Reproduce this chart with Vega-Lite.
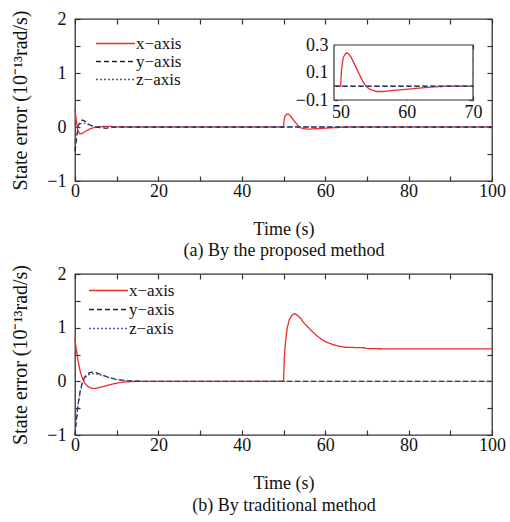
{
  "$schema": "https://vega.github.io/schema/vega-lite/v6.json",
  "padding": {"left": 10, "top": 9, "right": 3, "bottom": 4},
  "background": "white",
  "config": {
    "font": "Liberation Serif",
    "view": {"stroke": "#333333", "strokeWidth": 1.3},
    "axis": {
      "grid": false, "domain": false, "tickColor": "#333333", "tickSize": -5, "tickWidth": 1.2,
      "labelFont": "Liberation Serif", "labelFontSize": 18, "labelColor": "#111111", "labelFlush": false, "labelOverlap": false,
      "titleFont": "Liberation Serif", "titleFontSize": 18, "titleFontWeight": 400, "titleColor": "#111111"
    },
    "legend": {
      "labelFont": "Liberation Serif", "labelFontSize": 17, "labelColor": "#111111",
      "symbolType": "M-3,0H3", "symbolSize": 169, "symbolStrokeWidth": 1.3, "labelOffset": 12, "padding": 0
    }
  },
  "datasets": {
    "a": [
      {"s": "x−axis", "t": 0, "v": 0.33}, {"s": "x−axis", "t": 0.3, "v": 0.12}, {"s": "x−axis", "t": 0.7, "v": -0.07},
      {"s": "x−axis", "t": 1.2, "v": -0.13}, {"s": "x−axis", "t": 1.7, "v": -0.12}, {"s": "x−axis", "t": 2.5, "v": -0.08},
      {"s": "x−axis", "t": 3.5, "v": -0.04}, {"s": "x−axis", "t": 4.5, "v": -0.01}, {"s": "x−axis", "t": 5.5, "v": 0.005},
      {"s": "x−axis", "t": 7, "v": 0.01}, {"s": "x−axis", "t": 8.5, "v": 0.01}, {"s": "x−axis", "t": 9.8, "v": 0.005},
      {"s": "x−axis", "t": 12, "v": 0}, {"s": "x−axis", "t": 20, "v": 0}, {"s": "x−axis", "t": 40, "v": 0},
      {"s": "x−axis", "t": 49, "v": 0}, {"s": "x−axis", "t": 50, "v": 0}, {"s": "x−axis", "t": 50.15, "v": 0.13},
      {"s": "x−axis", "t": 50.4, "v": 0.21}, {"s": "x−axis", "t": 50.8, "v": 0.24}, {"s": "x−axis", "t": 51.1, "v": 0.24},
      {"s": "x−axis", "t": 51.6, "v": 0.21}, {"s": "x−axis", "t": 52.2, "v": 0.15}, {"s": "x−axis", "t": 52.8, "v": 0.09},
      {"s": "x−axis", "t": 53.3, "v": 0.04}, {"s": "x−axis", "t": 53.8, "v": 0}, {"s": "x−axis", "t": 54.5, "v": -0.025},
      {"s": "x−axis", "t": 55.5, "v": -0.038}, {"s": "x−axis", "t": 56.5, "v": -0.038}, {"s": "x−axis", "t": 58, "v": -0.03},
      {"s": "x−axis", "t": 60, "v": -0.022}, {"s": "x−axis", "t": 62, "v": -0.013}, {"s": "x−axis", "t": 64, "v": -0.005},
      {"s": "x−axis", "t": 66, "v": 0}, {"s": "x−axis", "t": 70, "v": 0}, {"s": "x−axis", "t": 80, "v": 0}, {"s": "x−axis", "t": 100, "v": 0},
      {"s": "y−axis", "t": 0, "v": -0.45}, {"s": "y−axis", "t": 0.4, "v": -0.2}, {"s": "y−axis", "t": 0.8, "v": 0.02},
      {"s": "y−axis", "t": 1.3, "v": 0.11}, {"s": "y−axis", "t": 1.8, "v": 0.13}, {"s": "y−axis", "t": 2.5, "v": 0.1},
      {"s": "y−axis", "t": 3.3, "v": 0.05}, {"s": "y−axis", "t": 4.2, "v": 0.015}, {"s": "y−axis", "t": 5, "v": 0},
      {"s": "y−axis", "t": 6, "v": -0.01}, {"s": "y−axis", "t": 7, "v": -0.02}, {"s": "y−axis", "t": 8, "v": -0.02},
      {"s": "y−axis", "t": 9, "v": -0.008}, {"s": "y−axis", "t": 10, "v": 0}, {"s": "y−axis", "t": 20, "v": 0},
      {"s": "y−axis", "t": 40, "v": 0}, {"s": "y−axis", "t": 49, "v": 0}, {"s": "y−axis", "t": 50, "v": 0},
      {"s": "y−axis", "t": 60, "v": 0}, {"s": "y−axis", "t": 70, "v": 0}, {"s": "y−axis", "t": 80, "v": 0}, {"s": "y−axis", "t": 100, "v": 0},
      {"s": "z−axis", "t": 0, "v": -0.3}, {"s": "z−axis", "t": 0.4, "v": -0.12}, {"s": "z−axis", "t": 0.8, "v": 0.02},
      {"s": "z−axis", "t": 1.3, "v": 0.06}, {"s": "z−axis", "t": 2, "v": 0.08}, {"s": "z−axis", "t": 2.8, "v": 0.06},
      {"s": "z−axis", "t": 3.6, "v": 0.03}, {"s": "z−axis", "t": 4.5, "v": 0.01}, {"s": "z−axis", "t": 5.5, "v": 0},
      {"s": "z−axis", "t": 10, "v": 0}, {"s": "z−axis", "t": 20, "v": 0}, {"s": "z−axis", "t": 40, "v": 0},
      {"s": "z−axis", "t": 49, "v": 0}, {"s": "z−axis", "t": 50, "v": 0}, {"s": "z−axis", "t": 60, "v": 0},
      {"s": "z−axis", "t": 70, "v": 0}, {"s": "z−axis", "t": 80, "v": 0}, {"s": "z−axis", "t": 100, "v": 0}
    ],
    "b": [
      {"s": "x−axis", "t": 0, "v": 0.8}, {"s": "x−axis", "t": 0.3, "v": 0.6}, {"s": "x−axis", "t": 0.7, "v": 0.4},
      {"s": "x−axis", "t": 1.2, "v": 0.2}, {"s": "x−axis", "t": 1.8, "v": 0.05}, {"s": "x−axis", "t": 2.3, "v": -0.03},
      {"s": "x−axis", "t": 3, "v": -0.09}, {"s": "x−axis", "t": 4, "v": -0.13}, {"s": "x−axis", "t": 5, "v": -0.13},
      {"s": "x−axis", "t": 6, "v": -0.11}, {"s": "x−axis", "t": 7, "v": -0.09}, {"s": "x−axis", "t": 8, "v": -0.07},
      {"s": "x−axis", "t": 9, "v": -0.05}, {"s": "x−axis", "t": 10, "v": -0.035}, {"s": "x−axis", "t": 11, "v": -0.02},
      {"s": "x−axis", "t": 12, "v": -0.012}, {"s": "x−axis", "t": 13.5, "v": -0.005}, {"s": "x−axis", "t": 15, "v": 0},
      {"s": "x−axis", "t": 30, "v": 0}, {"s": "x−axis", "t": 50, "v": 0}, {"s": "x−axis", "t": 50.2, "v": 0.45},
      {"s": "x−axis", "t": 50.5, "v": 0.75}, {"s": "x−axis", "t": 50.9, "v": 1.0}, {"s": "x−axis", "t": 51.4, "v": 1.15},
      {"s": "x−axis", "t": 52, "v": 1.23}, {"s": "x−axis", "t": 52.6, "v": 1.26}, {"s": "x−axis", "t": 53.2, "v": 1.24},
      {"s": "x−axis", "t": 54, "v": 1.18}, {"s": "x−axis", "t": 55, "v": 1.08}, {"s": "x−axis", "t": 56, "v": 1.0},
      {"s": "x−axis", "t": 57, "v": 0.92}, {"s": "x−axis", "t": 58, "v": 0.85}, {"s": "x−axis", "t": 59, "v": 0.79},
      {"s": "x−axis", "t": 60, "v": 0.74}, {"s": "x−axis", "t": 61, "v": 0.71}, {"s": "x−axis", "t": 62, "v": 0.68},
      {"s": "x−axis", "t": 63, "v": 0.66}, {"s": "x−axis", "t": 64, "v": 0.645}, {"s": "x−axis", "t": 65, "v": 0.635},
      {"s": "x−axis", "t": 67, "v": 0.63}, {"s": "x−axis", "t": 69.5, "v": 0.625}, {"s": "x−axis", "t": 70, "v": 0.61},
      {"s": "x−axis", "t": 75, "v": 0.605}, {"s": "x−axis", "t": 90, "v": 0.605}, {"s": "x−axis", "t": 100, "v": 0.605},
      {"s": "y−axis", "t": 0, "v": -1.0}, {"s": "y−axis", "t": 0.3, "v": -0.75}, {"s": "y−axis", "t": 0.7, "v": -0.45},
      {"s": "y−axis", "t": 1.2, "v": -0.2}, {"s": "y−axis", "t": 1.8, "v": 0}, {"s": "y−axis", "t": 2.5, "v": 0.1},
      {"s": "y−axis", "t": 3.2, "v": 0.15}, {"s": "y−axis", "t": 4, "v": 0.17}, {"s": "y−axis", "t": 4.8, "v": 0.17},
      {"s": "y−axis", "t": 5.5, "v": 0.15}, {"s": "y−axis", "t": 6.5, "v": 0.12}, {"s": "y−axis", "t": 7.5, "v": 0.09},
      {"s": "y−axis", "t": 8.5, "v": 0.065}, {"s": "y−axis", "t": 9.5, "v": 0.045}, {"s": "y−axis", "t": 10.5, "v": 0.03},
      {"s": "y−axis", "t": 12, "v": 0.015}, {"s": "y−axis", "t": 13.5, "v": 0.007}, {"s": "y−axis", "t": 15, "v": 0.002},
      {"s": "y−axis", "t": 17, "v": 0}, {"s": "y−axis", "t": 50, "v": 0}, {"s": "y−axis", "t": 100, "v": 0},
      {"s": "z−axis", "t": 0, "v": -0.95}, {"s": "z−axis", "t": 0.3, "v": -0.72}, {"s": "z−axis", "t": 0.7, "v": -0.45},
      {"s": "z−axis", "t": 1.2, "v": -0.22}, {"s": "z−axis", "t": 1.8, "v": -0.03}, {"s": "z−axis", "t": 2.5, "v": 0.07},
      {"s": "z−axis", "t": 3.2, "v": 0.12}, {"s": "z−axis", "t": 4, "v": 0.14}, {"s": "z−axis", "t": 4.8, "v": 0.145},
      {"s": "z−axis", "t": 5.5, "v": 0.13}, {"s": "z−axis", "t": 6.5, "v": 0.11}, {"s": "z−axis", "t": 7.5, "v": 0.085},
      {"s": "z−axis", "t": 8.5, "v": 0.06}, {"s": "z−axis", "t": 9.5, "v": 0.04}, {"s": "z−axis", "t": 10.5, "v": 0.028},
      {"s": "z−axis", "t": 12, "v": 0.014}, {"s": "z−axis", "t": 13.5, "v": 0.006}, {"s": "z−axis", "t": 15, "v": 0.002},
      {"s": "z−axis", "t": 17, "v": 0}, {"s": "z−axis", "t": 50, "v": 0}, {"s": "z−axis", "t": 100, "v": 0}
    ],
    "box": [{"x0": 49, "x1": 70, "y0": -0.1, "y1": 0.3}]
  },
  "spacing": 3,
  "resolve": {
    "scale": {"color": "independent", "strokeDash": "independent"},
    "legend": {"color": "independent", "strokeDash": "independent"}
  },
  "vconcat": [
    {
      "width": 417, "height": 162,
      "resolve": {"scale": {"x": "independent", "y": "independent"}},
      "layer": [
        {
          "data": {"name": "a"},
          "mark": {"type": "line", "strokeWidth": 1.3},
          "encoding": {
            "x": {"field": "t", "type": "quantitative", "scale": {"domain": [0, 100], "nice": false, "zero": false},
              "axis": {"orient": "bottom", "values": [0, 10, 20, 30, 40, 50, 60, 70, 80, 90, 100],
                "labelExpr": "datum.value % 20 === 0 ? datum.label : ''", "labelPadding": 6,
                "title": ["Time (s)", "(a) By the proposed method"], "titlePadding": 20, "titleLineHeight": 21, "titleFontWeight": 400}},
            "y": {"field": "v", "type": "quantitative", "scale": {"domain": [-1, 2], "nice": false, "zero": false},
              "axis": {"orient": "left", "values": [-1, -0.5, 0, 0.5, 1, 1.5, 2], "format": "~g",
                "labelExpr": "datum.value % 1 === 0 ? datum.label : ''", "labelPadding": 14,
                "title": "State error (10⁻¹³rad/s)", "titlePadding": 16, "titleFontSize": 20, "titleFontWeight": 400}},
            "color": {"field": "s", "type": "nominal",
              "scale": {"domain": ["x−axis", "y−axis", "z−axis"], "range": ["#ee2b2b", "#222222", "#4b5bb0"]},
              "legend": {"orient": "none", "legendX": 32, "legendY": 16, "title": null, "rowPadding": 0}},
            "strokeDash": {"field": "s", "type": "nominal",
              "scale": {"domain": ["x−axis", "y−axis", "z−axis"], "range": [[1, 0], [5, 3], [2, 2]]},
              "legend": {"orient": "none", "legendX": 32, "legendY": 16, "title": null, "rowPadding": 0}}
          }
        },
        {
          "data": {"name": "a"},
          "mark": {"type": "point", "opacity": 0},
          "encoding": {
            "x": {"field": "t", "type": "quantitative", "scale": {"domain": [0, 100], "nice": false, "zero": false},
              "axis": {"orient": "top", "values": [0, 10, 20, 30, 40, 50, 60, 70, 80, 90, 100], "labels": false, "title": null}},
            "y": {"field": "v", "type": "quantitative", "scale": {"domain": [-1, 2], "nice": false, "zero": false},
              "axis": {"orient": "right", "values": [-1, -0.5, 0, 0.5, 1, 1.5, 2], "labels": false, "title": null}}
          }
        },
        {
          "data": {"name": "box"},
          "mark": {"type": "rect", "fill": "white", "stroke": "#333333", "strokeWidth": 1.2},
          "encoding": {
            "x": {"field": "x0", "type": "quantitative", "scale": {"domain": [49, 70], "range": [259, 398], "nice": false, "zero": false},
              "axis": {"orient": "bottom", "offset": -81, "values": [50, 60, 70], "tickSize": -4, "labelPadding": 7, "title": null}},
            "x2": {"field": "x1"},
            "y": {"field": "y0", "type": "quantitative", "scale": {"domain": [-0.1, 0.3], "range": [81, 26], "nice": false, "zero": false},
              "axis": {"orient": "left", "offset": -259, "values": [-0.1, 0, 0.1, 0.2, 0.3], "format": ".1f", "tickSize": -4,
                "labelExpr": "abs(datum.value) < 0.01 || abs(datum.value - 0.2) < 0.01 ? '' : datum.label", "labelPadding": 10, "title": null}},
            "y2": {"field": "y1"}
          }
        },
        {
          "data": {"name": "a"},
          "transform": [{"filter": "datum.t >= 49 && datum.t <= 70"}],
          "mark": {"type": "line", "strokeWidth": 1.3},
          "encoding": {
            "x": {"field": "t", "type": "quantitative", "scale": {"domain": [49, 70], "range": [259, 398], "nice": false, "zero": false},
              "axis": {"orient": "top", "offset": -26, "values": [50, 60, 70], "tickSize": -4, "labels": false, "title": null}},
            "y": {"field": "v", "type": "quantitative", "scale": {"domain": [-0.1, 0.3], "range": [81, 26], "nice": false, "zero": false},
              "axis": {"orient": "right", "offset": -19, "values": [-0.1, 0, 0.1, 0.2, 0.3], "tickSize": -4, "labels": false, "title": null}},
            "color": {"field": "s", "type": "nominal",
              "scale": {"domain": ["x−axis", "y−axis", "z−axis"], "range": ["#ee2b2b", "#222222", "#4b5bb0"]},
              "legend": {"orient": "none", "legendX": 32, "legendY": 16, "title": null, "rowPadding": 0}},
            "strokeDash": {"field": "s", "type": "nominal",
              "scale": {"domain": ["x−axis", "y−axis", "z−axis"], "range": [[1, 0], [5, 3], [2, 2]]},
              "legend": {"orient": "none", "legendX": 32, "legendY": 16, "title": null, "rowPadding": 0}}
          }
        }
      ]
    },
    {
      "width": 417, "height": 161,
      "resolve": {"scale": {"x": "independent", "y": "independent"}},
      "layer": [
        {
          "data": {"name": "b"},
          "mark": {"type": "line", "strokeWidth": 1.3},
          "encoding": {
            "x": {"field": "t", "type": "quantitative", "scale": {"domain": [0, 100], "nice": false, "zero": false},
              "axis": {"orient": "bottom", "values": [0, 10, 20, 30, 40, 50, 60, 70, 80, 90, 100],
                "labelExpr": "datum.value % 20 === 0 ? datum.label : ''", "labelPadding": 6,
                "title": ["Time (s)", "(b) By traditional method"], "titlePadding": 20, "titleLineHeight": 22, "titleFontWeight": 400}},
            "y": {"field": "v", "type": "quantitative", "scale": {"domain": [-1, 2], "nice": false, "zero": false},
              "axis": {"orient": "left", "values": [-1, -0.5, 0, 0.5, 1, 1.5, 2], "format": "~g",
                "labelExpr": "datum.value % 1 === 0 ? datum.label : ''", "labelPadding": 14,
                "title": "State error (10⁻¹³rad/s)", "titlePadding": 16, "titleFontSize": 20, "titleFontWeight": 400}},
            "color": {"field": "s", "type": "nominal",
              "scale": {"domain": ["x−axis", "y−axis", "z−axis"], "range": ["#ee2b2b", "#222222", "#4b5bb0"]},
              "legend": {"orient": "none", "legendX": 25, "legendY": 8, "title": null, "rowPadding": 1}},
            "strokeDash": {"field": "s", "type": "nominal",
              "scale": {"domain": ["x−axis", "y−axis", "z−axis"], "range": [[1, 0], [5, 3], [2, 2]]},
              "legend": {"orient": "none", "legendX": 25, "legendY": 8, "title": null, "rowPadding": 1}}
          }
        },
        {
          "data": {"name": "b"},
          "mark": {"type": "point", "opacity": 0},
          "encoding": {
            "x": {"field": "t", "type": "quantitative", "scale": {"domain": [0, 100], "nice": false, "zero": false},
              "axis": {"orient": "top", "values": [0, 10, 20, 30, 40, 50, 60, 70, 80, 90, 100], "labels": false, "title": null}},
            "y": {"field": "v", "type": "quantitative", "scale": {"domain": [-1, 2], "nice": false, "zero": false},
              "axis": {"orient": "right", "values": [-1, -0.5, 0, 0.5, 1, 1.5, 2], "labels": false, "title": null}}
          }
        }
      ]
    }
  ]
}
